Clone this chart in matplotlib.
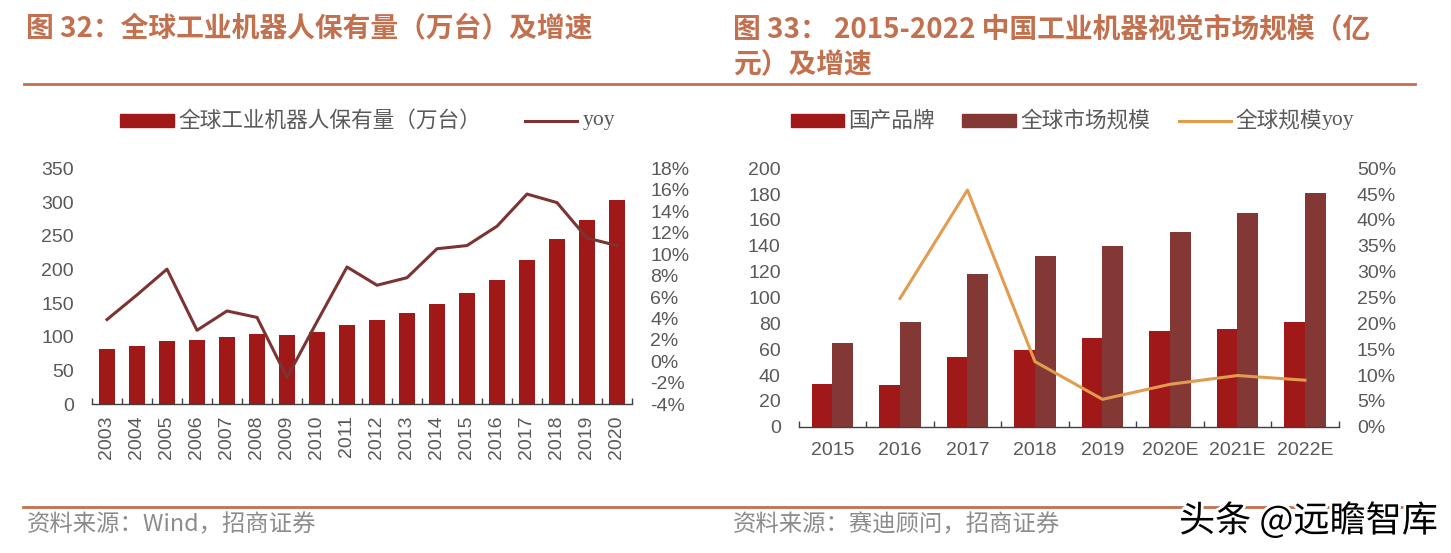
import matplotlib
matplotlib.use("Agg")
import matplotlib.pyplot as plt
from matplotlib.patches import Rectangle
from matplotlib.lines import Line2D
import matplotlib.patheffects as pe
import numpy as np

# ---------------- data ----------------
years_l = ["2003", "2004", "2005", "2006", "2007", "2008", "2009", "2010", "2011",
           "2012", "2013", "2014", "2015", "2016", "2017", "2018", "2019", "2020"]
stock = [82, 86, 93.5, 96, 100.5, 105, 103.5, 107, 117, 124.5, 135, 148.5,
         164.5, 185, 214, 245, 273.5, 302.5]
stock_yoy = [3.9, 6.2, 8.6, 2.9, 4.7, 4.1, -1.5, 3.7, 8.8, 7.1, 7.8, 10.5,
             10.8, 12.6, 15.6, 14.8, 11.5, 10.8]

years_r = ["2015", "2016", "2017", "2018", "2019", "2020E", "2021E", "2022E"]
domestic = [33, 32, 54, 59.5, 68.5, 74, 75.5, 81]
global_mkt = [65, 81, 118, 132.5, 139.5, 150.5, 165.5, 180.5]
global_yoy = [np.nan, 24.8, 45.8, 12.6, 5.3, 8.2, 9.9, 9.0]

left_yticks = [0, 50, 100, 150, 200, 250, 300, 350]
left_y2ticks = [-4, -2, 0, 2, 4, 6, 8, 10, 12, 14, 16, 18]
right_yticks = [0, 20, 40, 60, 80, 100, 120, 140, 160, 180, 200]
right_y2ticks = [0, 5, 10, 15, 20, 25, 30, 35, 40, 45, 50]

# ---------------- style ----------------
W, H = 1451, 553
CJK = ["Noto Sans CJK SC", "DejaVu Sans"]
NUM = ["Liberation Sans", "DejaVu Sans"]
NUM_SIZE = 14
C_TITLE = "#C3704E"
C_BAR = "#A01818"
C_BAR2 = "#843836"
C_LINE = "#7B3432"
C_ORANGE = "#E19C50"
C_TXT = "#595959"
C_FOOT = "#8C8C8C"

fig = plt.figure(figsize=(W / 100, H / 100), dpi=100)
fig.patch.set_facecolor("white")


def fx(px):
    return px / W


def fy(py):
    return 1 - py / H


def style_axes(ax, ax2, n):
    for s in ["top", "left", "right"]:
        ax.spines[s].set_visible(False)
        ax2.spines[s].set_visible(False)
    ax2.spines["bottom"].set_visible(False)
    ax.spines["bottom"].set_color("#404040")
    ax.spines["bottom"].set_linewidth(1.0)
    ax.set_xlim(-0.5, n - 0.5)
    ax.set_xticks(np.arange(-0.5, n, 1.0), minor=True)
    ax.tick_params(axis="x", which="minor", direction="in", length=4.5,
                   width=1.0, color="#404040")
    ax.tick_params(axis="x", which="major", length=0)
    ax.tick_params(axis="y", length=0, pad=13, labelsize=NUM_SIZE, labelcolor=C_TXT)
    ax2.tick_params(axis="y", length=0, pad=13, labelsize=NUM_SIZE, labelcolor=C_TXT)
    for lab in ax.get_yticklabels() + ax2.get_yticklabels():
        lab.set_family(NUM)


# ---------------- left chart ----------------
axL = fig.add_axes([fx(92), fy(404.3), fx(540), (404.3 - 168.3) / H])
axL2 = axL.twinx()
xl = np.arange(len(years_l))
axL.bar(xl, stock, width=0.51, color=C_BAR, zorder=2)
axL2.plot(xl, stock_yoy, color=C_LINE, lw=2.2, zorder=3)
axL.set_ylim(0, 350)
axL.set_yticks(left_yticks)
axL.set_yticklabels([str(v) for v in left_yticks])
axL2.set_ylim(-4, 18)
axL2.set_yticks(left_y2ticks)
axL2.set_yticklabels([f"{v}%" for v in left_y2ticks])
axL.set_xticks(xl)
axL.set_xticklabels(years_l, rotation=90, fontsize=NUM_SIZE, color=C_TXT, family=NUM)
style_axes(axL, axL2, len(years_l))
axL.tick_params(axis="x", which="major", pad=8)

# ---------------- right chart ----------------
axR = fig.add_axes([fx(798.7), fy(426.7), fx(540), (426.7 - 168.3) / H])
axR2 = axR.twinx()
xr = np.arange(len(years_r))
axR.bar(xr - 0.155, domestic, width=0.31, color=C_BAR, zorder=2)
axR.bar(xr + 0.155, global_mkt, width=0.31, color=C_BAR2, zorder=2)
axR2.plot(xr, global_yoy, color=C_ORANGE, lw=2.2, zorder=3)
axR.set_ylim(0, 200)
axR.set_yticks(right_yticks)
axR.set_yticklabels([str(v) for v in right_yticks])
axR2.set_ylim(0, 50)
axR2.set_yticks(right_y2ticks)
axR2.set_yticklabels([f"{v}%" for v in right_y2ticks])
axR.set_xticks(xr)
axR.set_xticklabels(years_r, fontsize=NUM_SIZE, color=C_TXT, family=NUM)
style_axes(axR, axR2, len(years_r))
axR.tick_params(axis="x", which="major", pad=11)

# ---------------- titles ----------------
fig.text(fx(26), fy(29), "图 32：全球工业机器人保有量（万台）及增速", fontsize=20,
         fontweight="bold", color=C_TITLE, family=CJK, va="center", ha="left")
fig.text(fx(733), fy(29), "图 33： 2015-2022 中国工业机器视觉市场规模（亿", fontsize=20,
         fontweight="bold", color=C_TITLE, family=CJK, va="center", ha="left")
fig.text(fx(733), fy(65), "元）及增速", fontsize=20,
         fontweight="bold", color=C_TITLE, family=CJK, va="center", ha="left")

# rules
fig.add_artist(Line2D([fx(24), fx(1415)], [fy(84.3), fy(84.3)], color=C_TITLE, lw=2.0))
fig.add_artist(Line2D([fx(23), fx(1415)], [fy(506.5), fy(506.5)], color=C_TITLE, lw=2.0))

# ---------------- legends ----------------
ly = 121
fig.add_artist(Rectangle((fx(120), fy(127)), fx(54), 13 / H, color=C_BAR))
fig.text(fx(178), fy(ly), "全球工业机器人保有量（万台）", fontsize=15.6, color=C_TXT,
         family=CJK, va="center", ha="left")
fig.add_artist(Line2D([fx(525), fx(577)], [fy(ly), fy(ly)], color=C_LINE, lw=2.2))
fig.text(fx(583), fy(ly), "yoy", fontsize=15.6, color=C_TXT,
         family=["Liberation Serif", "DejaVu Serif"], va="center", ha="left")

fig.add_artist(Rectangle((fx(791), fy(127)), fx(53), 13 / H, color=C_BAR))
fig.text(fx(848), fy(ly), "国产品牌", fontsize=15.6, color=C_TXT, family=CJK,
         va="center", ha="left")
fig.add_artist(Rectangle((fx(962), fy(127)), fx(54), 13 / H, color=C_BAR2))
fig.text(fx(1020), fy(ly), "全球市场规模", fontsize=15.6, color=C_TXT, family=CJK,
         va="center", ha="left")
fig.add_artist(Line2D([fx(1179), fx(1231)], [fy(ly), fy(ly)], color=C_ORANGE, lw=2.2))
fig.text(fx(1235), fy(ly), "全球规模", fontsize=15.6, color=C_TXT, family=CJK,
         va="center", ha="left")
fig.text(fx(1235 + 4 * 21.7), fy(ly), "yoy", fontsize=15.6, color=C_TXT,
         family=["Liberation Serif", "DejaVu Serif"], va="center", ha="left")

# ---------------- footers ----------------
fig.text(fx(27), fy(525), "资料来源：Wind，招商证券", fontsize=16.8, color=C_FOOT,
         family=CJK, va="center", ha="left")
fig.text(fx(733), fy(525), "资料来源：赛迪顾问，招商证券", fontsize=16.8, color=C_FOOT,
         family=CJK, va="center", ha="left")
fig.text(fx(1438), fy(521), "头条 @远瞻智库", fontsize=26, color="black",
         family=CJK, va="center", ha="right", fontweight="medium",
         path_effects=[pe.withStroke(linewidth=4, foreground="white")])

fig.savefig("out.png", dpi=100, facecolor="white")
